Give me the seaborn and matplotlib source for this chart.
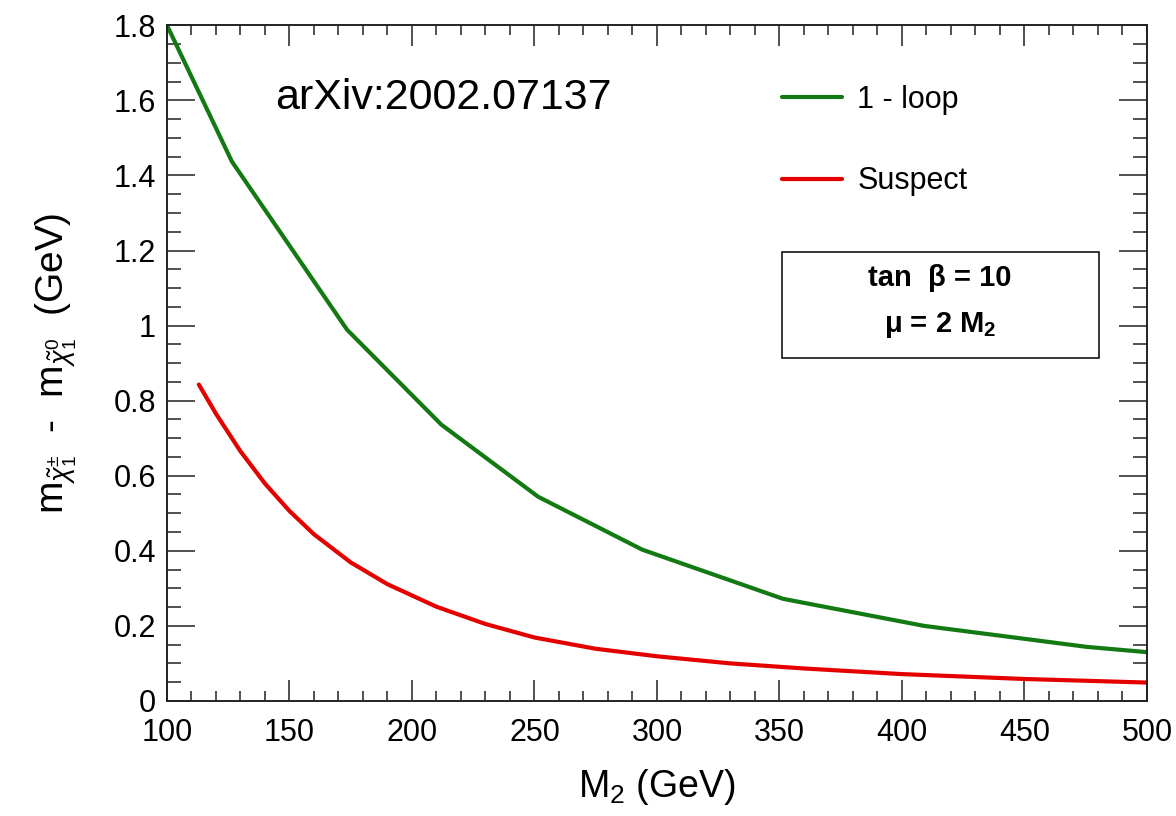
import numpy as np
import pandas as pd
import seaborn as sns
import matplotlib.pyplot as plt
from matplotlib.ticker import MultipleLocator, FuncFormatter
from matplotlib.patches import Rectangle

# values
m2_loop = [100, 126.5, 173.5, 212, 251.5, 294, 351.5, 409, 475.5, 500]
dm_loop = [1.80, 1.437, 0.989, 0.736, 0.544, 0.403, 0.272, 0.200, 0.144, 0.130]

m2_suspect = [113, 120, 130, 140, 150, 160, 175, 190, 210, 230, 250, 275,
              300, 330, 360, 400, 450, 500]
dm_suspect = [0.843, 0.765, 0.665, 0.579, 0.506, 0.444, 0.369, 0.311, 0.251,
              0.205, 0.169, 0.139, 0.119, 0.100, 0.0865, 0.0715, 0.0585, 0.049]

labels = ['1 - loop', 'Suspect']
colors = {'1 - loop': '#137a13', 'Suspect': '#e50000'}

df = pd.concat([
    pd.DataFrame({'M2': m2_loop, 'dm': dm_loop, 'calc': labels[0]}),
    pd.DataFrame({'M2': m2_suspect, 'dm': dm_suspect, 'calc': labels[1]}),
])

sns.set_style('white')
plt.rcParams['font.family'] = ['Liberation Sans', 'DejaVu Sans']
plt.rcParams['mathtext.fontset'] = 'custom'
plt.rcParams['mathtext.rm'] = 'Liberation Sans'
plt.rcParams['mathtext.it'] = 'Liberation Sans:italic'
plt.rcParams['mathtext.bf'] = 'Liberation Sans:bold'
plt.rcParams['text.color'] = 'black'
plt.rcParams['axes.labelcolor'] = 'black'
plt.rcParams['xtick.color'] = 'black'
plt.rcParams['ytick.color'] = 'black'

fig = plt.figure(figsize=(11.76, 8.16), dpi=100)
ax = fig.add_axes([0.142, 0.141, 0.8333, 0.828])

sns.lineplot(data=df, x='M2', y='dm', hue='calc', palette=colors, sort=False,
             linewidth=3, ax=ax)
for ln in ax.get_lines():
    ln.set_solid_joinstyle('round')

ax.set_xlim(100, 500)
ax.set_ylim(0, 1.8)
ax.xaxis.set_major_locator(MultipleLocator(50))
ax.xaxis.set_minor_locator(MultipleLocator(10))
ax.yaxis.set_major_locator(MultipleLocator(0.2))
ax.yaxis.set_minor_locator(MultipleLocator(0.05))
ax.yaxis.set_major_formatter(FuncFormatter(lambda v, p: f'{v:g}'))

ax.tick_params(which='both', direction='in', bottom=True, left=True,
               top=True, right=True, labelsize=22, width=1.1, color='#222222')
ax.tick_params(axis='x', which='major', length=15, pad=12)
ax.tick_params(axis='x', which='minor', length=7.5)
ax.tick_params(axis='y', which='major', length=20, pad=8)
ax.tick_params(axis='y', which='minor', length=10)
for s in ax.spines.values():
    s.set_linewidth(1.4)
    s.set_color('#222222')

ax.set_xlabel('M$_{2}$ (GeV)', fontsize=27, labelpad=14)
ax.set_ylabel(r'm$_{\tilde{\chi}^{\pm}_{1}}$  -  m$_{\tilde{\chi}^{0}_{1}}$  (GeV)',
              fontsize=28, labelpad=25)

ax.text(0.110, 0.892, 'arXiv:2002.07137', transform=ax.transAxes,
        fontsize=31, va='center', ha='left')

ax.legend(frameon=False, loc='upper left', bbox_to_anchor=(0.6276, 0.912),
          borderpad=0, borderaxespad=0, fontsize=22, handlelength=1.97,
          handletextpad=0.5, labelspacing=1.69, title=None)

ax.add_patch(Rectangle((0.6276, 0.507), 0.3234, 0.157, transform=ax.transAxes,
                       fill=False, edgecolor='black', linewidth=1.1))
ax.text(0.789, 0.626, r'tan  β = 10', transform=ax.transAxes, fontsize=21,
        fontweight='bold', ha='center', va='center')
ax.text(0.789, 0.556, r'μ = 2 M$_{\mathbf{2}}$', transform=ax.transAxes,
        fontsize=21, fontweight='bold', ha='center', va='center')

fig.savefig('out.png', dpi=100)
